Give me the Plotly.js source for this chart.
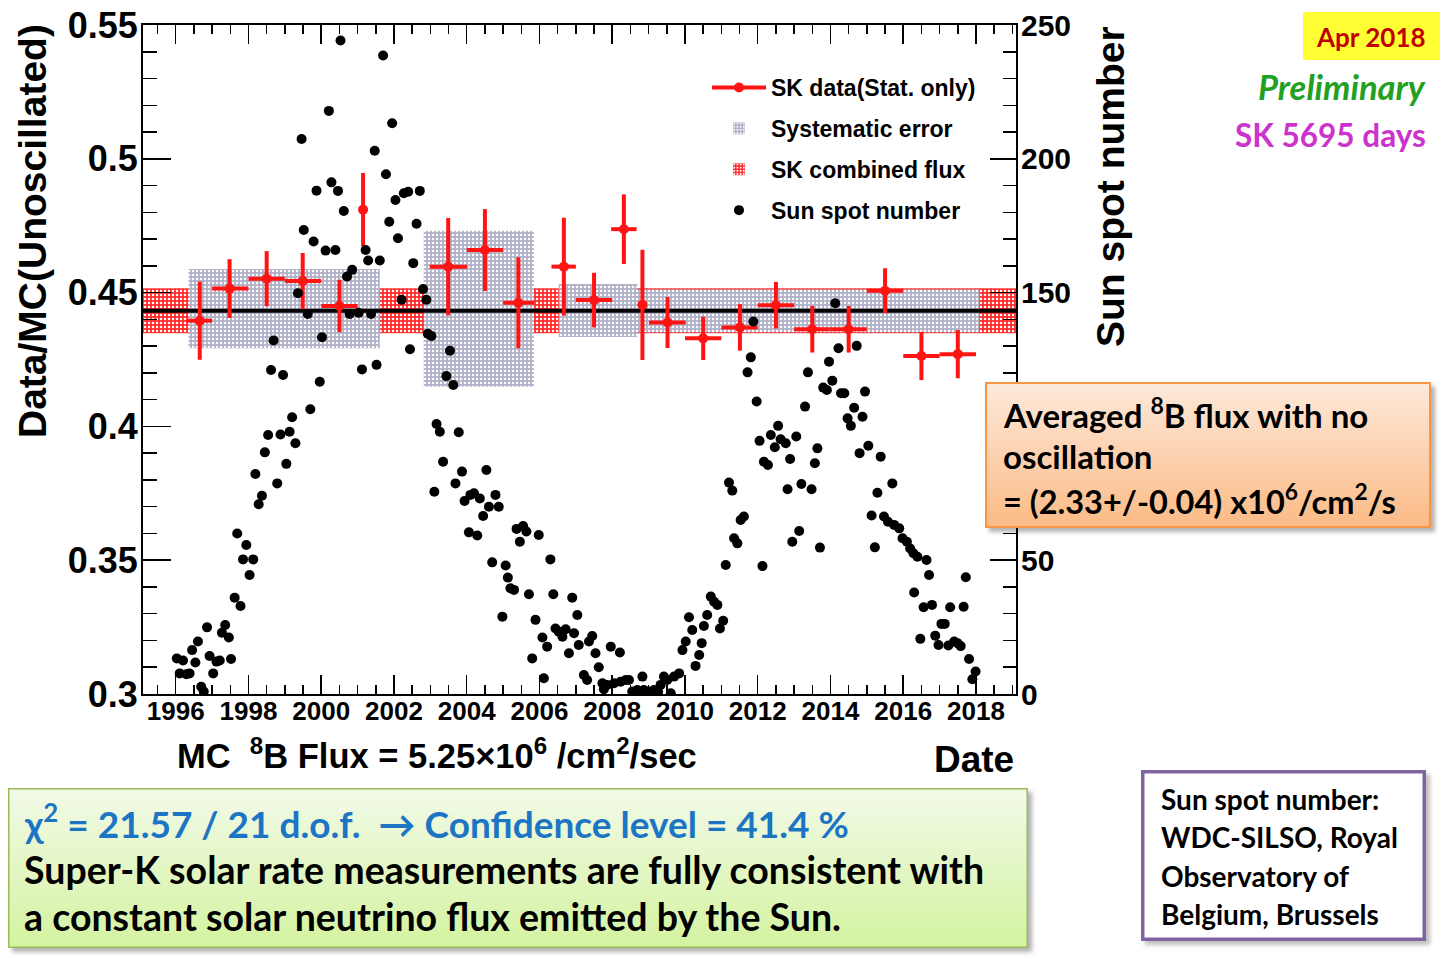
<!DOCTYPE html>
<html><head><meta charset="utf-8">
<script src="https://cdn.plot.ly/plotly-3.0.1.min.js"></script>
<style>html,body{margin:0;padding:0;background:#fff;}#chart{width:1456px;height:964px;}</style>
</head><body><div id="chart"></div>
<script>
// ---------- SK solar rate data (Data/MC ratio, stat. errors) ----------
const skYear  = [1996.66,1997.48,1998.50,1999.49,2000.50,2001.15,2003.49,2004.50,2005.42,2006.67,2007.50,2008.32,2008.83,2009.52,2010.50,2011.51,2012.50,2013.50,2014.50,2015.50,2016.50,2017.50];
const skBinLo = [1996.31,1997.00,1998.00,1999.00,2000.00,2001.04,2002.98,2004.00,2005.00,2006.33,2007.00,2007.97,2008.73,2009.01,2010.00,2011.00,2012.00,2013.00,2014.00,2015.00,2016.00,2017.00];
const skBinHi = [1997.00,1998.00,1999.00,2000.00,2001.00,2001.26,2004.01,2005.00,2005.85,2007.00,2008.00,2008.67,2008.94,2010.02,2011.00,2012.00,2013.00,2014.00,2015.00,2016.00,2017.00,2018.00];
const skRatio = [0.4395,0.4515,0.4552,0.4543,0.4450,0.4810,0.4597,0.4659,0.4462,0.4597,0.4472,0.4737,0.4454,0.4388,0.4329,0.4370,0.4453,0.4363,0.4363,0.4507,0.4263,0.4270];
const skStatErr = [0.0146,0.0110,0.0103,0.0105,0.0098,0.0137,0.0182,0.0153,0.0170,0.0183,0.0102,0.0130,0.0206,0.0095,0.0081,0.0087,0.0087,0.0087,0.0087,0.0084,0.0090,0.0090];

// ---------- Systematic error boxes per SK phase ----------
const sysStart = [1996.35, 2002.82, 2006.53, 2008.69];
const sysEnd   = [2001.61, 2005.85, 2008.69, 2018.09];
const sysLow   = [0.4292, 0.4148, 0.4334, 0.4352];
const sysHigh  = [0.4588, 0.4731, 0.4532, 0.4512];

// ---------- SK combined flux ----------
const combFlux = [0.4432];
const combErr  = [0.0084];
const combStart = [1995.1];
const combEnd   = [2019.1];

// ---------- Monthly sun spot number ----------
const ssYear = [1996.03,1996.11,1996.20,1996.29,1996.38,1996.45,1996.54,1996.61,1996.70,1996.77,1996.86,1996.93,1997.03,1997.12,1997.21,1997.27,1997.36,1997.46,1997.52,1997.62,1997.69,1997.78,1997.85,1997.94,1998.03,1998.13,1998.19,1998.28,1998.37,1998.45,1998.54,1998.62,1998.69,1998.79,1998.88,1998.95,1999.04,1999.13,1999.20,1999.29,1999.36,1999.46,1999.52,1999.63,1999.70,1999.79,1999.87,1999.96,2000.02,2000.12,2000.21,2000.28,2000.39,2000.46,2000.53,2000.62,2000.71,2000.78,2000.85,2001.03,2001.12,2001.22,2001.29,2001.37,2001.47,2001.52,2001.61,2001.70,2001.78,2001.87,2001.95,2002.04,2002.11,2002.21,2002.27,2002.39,2002.44,2002.53,2002.62,2002.71,2002.80,2002.89,2002.93,2003.03,2003.11,2003.17,2003.26,2003.35,2003.44,2003.54,2003.63,2003.69,2003.78,2003.87,2003.94,2004.06,2004.10,2004.20,2004.29,2004.36,2004.45,2004.54,2004.61,2004.70,2004.79,2004.88,2004.98,2005.07,2005.13,2005.20,2005.30,2005.37,2005.46,2005.55,2005.64,2005.71,2005.80,2005.89,2005.98,2006.08,2006.12,2006.21,2006.30,2006.38,2006.44,2006.53,2006.63,2006.72,2006.81,2006.90,2006.95,2007.04,2007.08,2007.22,2007.31,2007.36,2007.45,2007.54,2007.63,2007.73,2007.77,2007.86,2007.96,2008.05,2008.21,2008.23,2008.37,2008.46,2008.55,2008.69,2008.83,2008.87,2009.01,2009.15,2009.26,2009.33,2009.42,2009.51,2009.61,2009.70,2009.84,2009.93,2010.02,2010.11,2010.20,2010.29,2010.39,2010.46,2010.52,2010.61,2010.71,2010.80,2010.89,2010.96,2011.05,2011.12,2011.21,2011.30,2011.35,2011.44,2011.53,2011.62,2011.72,2011.81,2011.88,2011.97,2012.05,2012.13,2012.17,2012.28,2012.36,2012.47,2012.56,2012.63,2012.77,2012.82,2012.89,2012.95,2013.06,2013.14,2013.20,2013.30,2013.38,2013.48,2013.57,2013.64,2013.71,2013.80,2013.90,2013.96,2014.05,2014.13,2014.22,2014.29,2014.38,2014.47,2014.56,2014.65,2014.72,2014.80,2014.88,2014.95,2015.04,2015.13,2015.22,2015.29,2015.38,2015.47,2015.58,2015.70,2015.75,2015.89,2015.98,2016.10,2016.19,2016.28,2016.30,2016.39,2016.47,2016.56,2016.64,2016.71,2016.79,2016.88,2016.97,2017.05,2017.14,2017.24,2017.29,2017.40,2017.49,2017.58,2017.66,2017.72,2017.81,2017.90,2017.99];
const ssNum = [13.3,7.7,12.5,7.4,7.7,16.4,11.8,19.6,2.7,0.9,24.9,14.2,7.7,12.1,12.5,22.9,25.8,21.1,13.1,36.0,60.0,32.9,50.3,55.7,44.5,50.3,82.2,70.9,74.1,90.3,96.8,121.1,132.1,78.7,97.0,119.2,86.0,98.0,103.4,93.7,149.8,207.4,173.4,142.0,106.4,169.1,188.1,116.7,133.3,165.7,217.9,191.2,165.9,188.0,244.2,180.5,156.0,142.0,158.5,142.5,121.3,165.9,162.0,142.0,203.0,123.0,162.0,238.6,194.2,176.5,213.3,184.6,170.3,147.3,187.1,187.7,128.8,161.0,175.7,188.0,151.3,147.3,134.6,133.8,75.6,100.9,98.0,86.8,118.8,128.3,115.5,78.7,97.8,83.1,72.1,60.4,74.4,75.0,59.2,73.1,66.5,83.7,70.0,49.2,74.4,70.0,28.9,48.0,43.5,39.5,38.9,61.7,56.9,62.8,60.7,37.3,13.3,27.7,59.4,21.1,5.9,17.7,50.3,37.3,24.5,23.3,21.4,24.2,15.2,36.0,22.7,29.5,18.3,7.1,5.2,19.6,21.7,15.2,10.0,4.0,1.8,3.4,17.7,4.0,15.5,4.6,5.2,5.2,0.9,1.5,6.5,1.5,0.9,1.5,0.9,3.4,6.5,5.2,0.3,6.5,7.7,16.4,19.6,28.7,23.9,10.5,14.6,19.0,25.4,29.5,36.4,34.5,33.3,24.5,27.4,48.2,79.0,76.0,58.2,56.3,65.0,66.3,120.2,125.8,139.2,109.3,94.6,47.8,86.8,85.6,96.8,92.2,100.2,95.2,93.7,76.5,87.8,56.9,96.2,60.9,78.5,107.4,120.2,76.5,86.2,91.8,54.7,114.5,113.6,124.2,117.1,146.0,129.2,112.4,112.4,103.0,100.2,107.0,130.1,90.0,103.6,113.0,92.8,66.7,54.8,75.2,88.7,66.3,64.4,78.7,63.2,61.9,58.2,56.9,54.4,52.6,37.9,51.3,20.6,32.4,50.1,44.5,33.3,21.8,18.3,26.2,26.2,18.1,32.4,19.6,19.0,17.9,32.6,43.6,13.1,5.5,8.4];

// ---------- Axis ticks ----------
const xTickVals = [1996,1998,2000,2002,2004,2006,2008,2010,2012,2014,2016,2018];
const yTickVals = [0.3,0.35,0.4,0.45,0.5,0.55];
const yTickText = ['0.3','0.35','0.4','0.45','0.5','0.55'];
const y2TickVals = [0,50,100,150,200,250];
const y2TickText = ['0','50','','150','200','250'];   // "100" is hidden by the flux box in the original

// ---------- helpers ----------
const ML = 143, MT = 25, PW = 873, PH = 669;
const px = x => (x - ML) / PW;
const py = y => (MT + PH - y) / PH;
const ARIAL = 'Liberation Sans, Arial, Helvetica, sans-serif';
const CAL = 'Lato, Carlito, Calibri, "Noto Sans", sans-serif';

// SK points, separated by gaps so that the legend can show a line key
const skX = [], skY = [], skEy = [], skExP = [], skExM = [];
skYear.forEach((x, i) => {
  if (i > 0) { skX.push(null); skY.push(null); skEy.push(null); skExP.push(null); skExM.push(null); }
  skX.push(x); skY.push(skRatio[i]); skEy.push(skStatErr[i]);
  skExP.push(skBinHi[i] - x); skExM.push(x - skBinLo[i]);
});

const RED = '#ff1414';

const traces = [
  { type: 'bar', name: 'SK combined flux', legendgroup: 'g3', legendrank: 3,
    x: combStart.map((s, i) => (s + combEnd[i]) / 2), width: combStart.map((s, i) => combEnd[i] - s),
    base: combFlux.map((c, i) => c - combErr[i]), y: combErr.map(e => 2 * e),
    marker: { color: '#ff3030', line: { width: 0 },
      pattern: { shape: '.', bgcolor: '#ff2a2a', fgcolor: '#ffffff', size: 4, solidity: 0.32, fillmode: 'replace' } },
    hoverinfo: 'skip' },
  { type: 'bar', name: 'Systematic error', legendgroup: 'g2', legendrank: 2,
    x: sysStart.map((s, i) => (s + sysEnd[i]) / 2), width: sysStart.map((s, i) => sysEnd[i] - s),
    base: sysLow, y: sysHigh.map((h, i) => h - sysLow[i]),
    marker: { color: '#b4b4cc', line: { width: 0 },
      pattern: { shape: '.', bgcolor: '#b0b0c8', fgcolor: '#ffffff', size: 4, solidity: 0.3, fillmode: 'replace' } },
    hoverinfo: 'skip' },
  { type: 'scatter', mode: 'lines', showlegend: false,
    x: [combStart[0], combEnd[0]], y: [combFlux[0], combFlux[0]],
    line: { color: '#000', width: 4 }, hoverinfo: 'skip' },
  { type: 'scatter', mode: 'lines+markers', name: 'SK data(Stat. only)', legendgroup: 'g1', legendrank: 1,
    x: skX, y: skY, connectgaps: false,
    line: { color: RED, width: 4 },
    marker: { color: RED, size: 10 },
    error_y: { type: 'data', array: skEy, color: RED, thickness: 4, width: 0 },
    error_x: { type: 'data', array: skExP, arrayminus: skExM, symmetric: false, color: RED, thickness: 4, width: 0 },
    hoverinfo: 'skip' },
  { type: 'scatter', mode: 'markers', name: 'Sun spot number', legendgroup: 'g4', legendrank: 4,
    x: ssYear, y: ssNum, yaxis: 'y2',
    marker: { color: '#000', size: 10 }, hoverinfo: 'skip' }
];

function boxImage(x0, y0, w, h, c1, c2, stroke, sw, shadow) {
  const pad = 8;
  const W = w + pad, H = h + pad;
  const svg = `<svg xmlns='http://www.w3.org/2000/svg' width='${W}' height='${H}' viewBox='0 0 ${W} ${H}'>` +
    `<defs><linearGradient id='g' x1='0' y1='0' x2='0' y2='1'><stop offset='0' stop-color='${c1}'/><stop offset='1' stop-color='${c2}'/></linearGradient>` +
    `<filter id='f' x='-10%' y='-10%' width='120%' height='120%'><feGaussianBlur stdDeviation='2'/></filter></defs>` +
    (shadow ? `<rect x='4' y='4' width='${w}' height='${h}' fill='rgba(0,0,0,${shadow})' filter='url(#f)'/>` : '') +
    `<rect x='${sw/2}' y='${sw/2}' width='${w - sw}' height='${h - sw}' fill='url(#g)' stroke='${stroke}' stroke-width='${sw}'/></svg>`;
  return { source: 'data:image/svg+xml;charset=utf-8,' + encodeURIComponent(svg),
    xref: 'paper', yref: 'paper', x: px(x0), y: py(y0), sizex: W / PW, sizey: H / PH,
    xanchor: 'left', yanchor: 'top', sizing: 'stretch', layer: 'above' };
}

function ann(text, x, y, size, color, family, opts) {
  return Object.assign({ text: text, xref: 'paper', yref: 'paper', x: px(x), y: py(y),
    showarrow: false, xanchor: 'left', yanchor: 'middle',
    font: { family: family || ARIAL, size: size, color: color || '#000', weight: 'bold' } }, opts || {});
}

const annotations = [
  ann('Data/MC(Unoscillated)', 32, 231, 39, '#000', ARIAL, { textangle: -90, xanchor: 'center' }),
  ann('Sun spot number', 1110, 187, 39, '#000', ARIAL, { textangle: -90, xanchor: 'center' }),
  ann('MC&nbsp;&nbsp;<sup>8</sup>B Flux = 5.25×10<sup>6</sup> /cm<sup>2</sup>/sec', 175, 753, 34.5, '#000', ARIAL),
  ann('Date', 1016, 759, 37, '#000', ARIAL, { xanchor: 'right' }),
  ann('Apr 2018', 1371, 37, 26, '#c00000', CAL, { xanchor: 'center' }),
  ann('<i>Preliminary</i>', 1428, 87, 34.5, '#22a022', CAL, { xanchor: 'right' }),
  ann('SK 5695 days', 1428, 135, 31.5, '#cc33cc', CAL, { xanchor: 'right' }),
  ann('Averaged <sup>8</sup>B flux with no', 1001, 413, 33, '#000', CAL),
  ann('oscillation', 1001, 456, 33, '#000', CAL),
  ann('= (2.33+/-0.04) x10<sup>6</sup>/cm<sup>2</sup>/s', 1001, 499, 32.5, '#000', CAL),
  ann('χ<sup>2</sup> = 21.57 / 21 d.o.f.&nbsp;&nbsp;→ Confidence level = 41.4 %', 22, 821, 37, '#1c75c4', CAL),
  ann('Super-K solar rate measurements are fully consistent with', 22, 869, 37.5, '#000', CAL),
  ann('a constant solar neutrino flux emitted by the Sun.', 22, 916, 37.5, '#000', CAL),
  ann('Sun spot number:', 1159, 799, 28, '#000', CAL),
  ann('WDC-SILSO, Royal', 1159, 837, 28, '#000', CAL),
  ann('Observatory of', 1159, 876, 28, '#000', CAL),
  ann('Belgium, Brussels', 1159, 914, 28, '#000', CAL)
];

const images = [
  boxImage(985, 382, 446, 146, '#fde9da', '#fbbb86', '#f79646', 2, 0.3),
  boxImage(8, 788, 1020, 160, '#f2fae8', '#d4f3a0', '#9bbb59', 1.5, 0.3),
  boxImage(1141, 770, 285, 171, '#ffffff', '#ffffff', '#8064a2', 3.5, 0.25)
];

const shapes = [
  { type: 'rect', xref: 'paper', yref: 'paper', x0: px(1303), x1: px(1440), y0: py(12), y1: py(60),
    fillcolor: '#ffff33', line: { width: 0 }, layer: 'above' }
];

const layout = {
  width: 1456, height: 964,
  margin: { l: ML, r: 1456 - ML - PW, t: MT, b: 964 - MT - PH, pad: 0 },
  paper_bgcolor: '#fff', plot_bgcolor: '#fff',
  barmode: 'overlay', hovermode: false,
  showlegend: true,
  legend: { x: px(707), y: py(66), xanchor: 'left', yanchor: 'top', bgcolor: 'rgba(0,0,0,0)',
    font: { family: ARIAL, size: 23, color: '#000', weight: 'bold' },
    itemwidth: 54, traceorder: 'grouped', tracegroupgap: 8 },
  xaxis: { range: [1995.1, 2019.1], tickmode: 'array', tickvals: xTickVals, ticktext: xTickVals.map(String),
    ticks: 'inside', ticklen: 19, tickwidth: 1.5, tickcolor: '#000', ticklabelstandoff: -7,
    showline: true, linewidth: 2, linecolor: '#000', mirror: 'ticks',
    showgrid: false, zeroline: false,
    tickfont: { family: ARIAL, size: 26, color: '#000', weight: 'bold' },
    minor: { tickmode: 'linear', tick0: 1996, dtick: 0.5, ticks: 'inside', ticklen: 9, tickwidth: 1.5, tickcolor: '#000', showgrid: false } },
  yaxis: { range: [0.3, 0.55], tickmode: 'array', tickvals: yTickVals, ticktext: yTickText,
    ticks: 'inside', ticklen: 28, tickwidth: 1.5, tickcolor: '#000', ticklabelstandoff: -4,
    showline: true, linewidth: 2, linecolor: '#000', mirror: false,
    showgrid: false, zeroline: false,
    tickfont: { family: ARIAL, size: 36, color: '#000', weight: 'bold' },
    minor: { tickmode: 'linear', tick0: 0.3, dtick: 0.01, ticks: 'inside', ticklen: 14, tickwidth: 1.5, tickcolor: '#000', showgrid: false } },
  yaxis2: { range: [0, 250], overlaying: 'y', side: 'right', tickmode: 'array', tickvals: y2TickVals, ticktext: y2TickText,
    ticks: 'inside', ticklen: 26, tickwidth: 1.5, tickcolor: '#000', ticklabelstandoff: -3,
    showline: true, linewidth: 2, linecolor: '#000',
    showgrid: false, zeroline: false,
    tickfont: { family: ARIAL, size: 30, color: '#000', weight: 'bold' },
    minor: { tickmode: 'linear', tick0: 0, dtick: 10, ticks: 'inside', ticklen: 13, tickwidth: 1.5, tickcolor: '#000', showgrid: false } },
  annotations: annotations,
  images: images,
  shapes: shapes
};

Plotly.newPlot('chart', traces, layout, { staticPlot: true, displayModeBar: false });
</script></body></html>
